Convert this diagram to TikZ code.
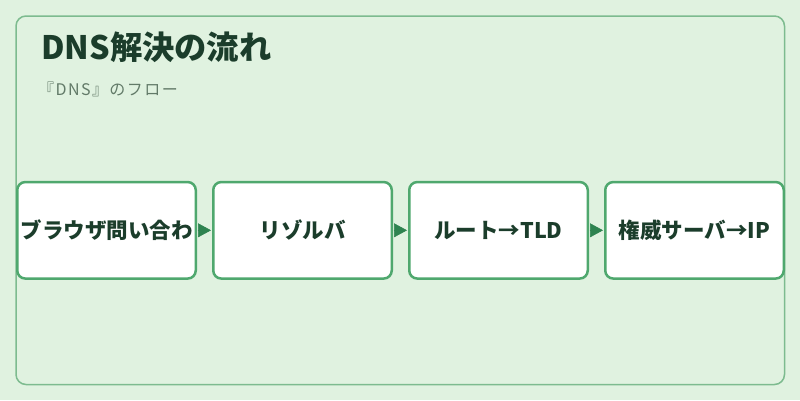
\documentclass[tikz,border=0pt]{standalone}
\usepackage{fontspec}
\setmainfont{Noto Sans CJK JP}
\usetikzlibrary{positioning,arrows.meta}

\definecolor{panelbg}{HTML}{E0F2E0}
\definecolor{panelline}{HTML}{7DBB8F}
\definecolor{boxline}{HTML}{4FA86E}
\definecolor{arrowgreen}{HTML}{2E8350}
\definecolor{titletext}{HTML}{1B3D2B}
\definecolor{subtext}{HTML}{627A68}

\begin{document}
\begin{tikzpicture}[x=1pt,y=-1pt,
		stepbox/.style={draw=boxline,line width=2.5pt,fill=white,rounded corners=8pt,
			minimum width=178.5pt,minimum height=96.5pt,inner sep=0pt,
			font=\fontsize{21.5}{24}\selectfont\bfseries,text=titletext},
		flow/.style={-{Triangle[length=13pt,width=14pt]},arrowgreen,line width=0.5pt,
			shorten >=1pt,shorten <=0.5pt}
	]

	% Background and panel
	\fill[panelbg] (0,0) rectangle (800,400);
	\useasboundingbox (0,0) rectangle (800,400);
	\draw[panelline,line width=1.5pt,rounded corners=10pt] (16,16) rectangle (784.5,384.5);

	% Heading
	\node[anchor=west,inner sep=0pt,text=titletext,font=\fontsize{32.3}{38}\selectfont\bfseries] (title) at (41,47) {DNS解決の流れ};
	\node[anchor=west,inner sep=0pt,text=subtext,font=\fontsize{16}{20}\selectfont\addfontfeatures{LetterSpace=9}] (subtitle) at (38,89) {『DNS』のフロー};

	% Steps
	\node[stepbox] (browser) at (106.5,230.3) {ブラウザ問い合わ};
	\node[stepbox,right=15pt of browser] (resolver) {リゾルバ};
	\node[stepbox,right=15pt of resolver] (root) {ルート→TLD};
	\node[stepbox,right=15pt of root] (auth) {権威サーバ→IP};

	% Arrows between steps
	\foreach \a/\b in {browser/resolver,resolver/root,root/auth} {
		\draw[flow] (\a) -- (\b);
	}

\end{tikzpicture}
\end{document}
